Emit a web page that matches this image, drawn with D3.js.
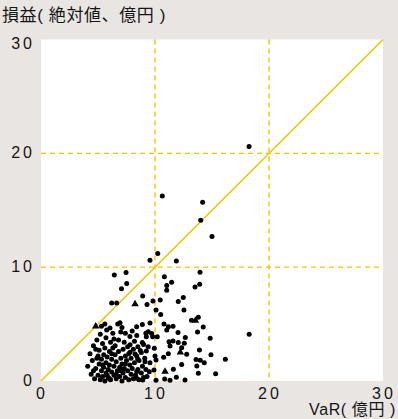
<!DOCTYPE html>
<html>
<head>
<meta charset="utf-8">
<script src="https://cdn.jsdelivr.net/npm/d3@7"></script>
<style>
  html, body { margin: 0; padding: 0; background: #e9e5e2; }
  svg { display: block; }
  text { font-family: "Liberation Sans", Arial, "Noto Sans CJK JP", sans-serif; fill: #151515; }
</style>
</head>
<body>
<svg id="chart" width="398" height="419"></svg>
<script>
// Axis ranges and ticks
const xTicks = [0, 10, 20, 30];
const yTicks = [0, 10, 20, 30];
const gridValues = [10, 20];
const yTitle = "損益( 絶対値、億円 )";
const xTitle = "VaR( 億円 )";

// Desks plotted as dots: [VaR, |P&L|]
const dots = [
  [18.25, 20.6], [10.64, 16.25], [14.18, 15.7], [14.01, 14.12], [15.0, 12.69],
  [10.24, 11.2], [9.56, 10.61], [11.87, 10.55], [13.95, 9.56], [10.82, 9.15],
  [11.46, 8.68], [11.03, 8.39], [13.92, 8.51], [13.51, 8.25], [11.03, 7.98],
  [8.92, 7.46], [12.48, 7.34], [12.04, 6.99], [9.82, 7.02], [10.46, 7.11],
  [9.3, 6.73], [12.54, 6.23], [10.09, 6.23], [10.5, 5.85], [13.8, 5.59],
  [13.2, 5.33], [14.23, 4.74], [8.39, 4.76], [8.89, 4.97], [9.56, 5.09],
  [10.79, 5.0], [11.17, 4.76], [11.58, 4.8], [11.03, 4.47], [13.73, 4.3],
  [12.02, 4.27], [9.41, 4.32], [9.71, 4.18], [18.26, 4.1], [14.84, 3.75],
  [12.66, 3.83], [9.24, 3.89], [9.8, 3.89], [10.2, 3.89], [11.23, 3.45],
  [11.58, 3.51], [12.04, 3.39], [12.57, 3.31], [8.89, 3.39], [7.81, 3.18],
  [11.32, 3.07], [12.34, 2.92], [9.94, 2.87], [9.24, 2.63], [8.71, 2.69],
  [13.9, 2.72], [12.78, 2.34], [11.17, 2.39], [14.91, 2.31], [16.17, 1.91],
  [7.81, 2.52], [8.25, 2.37], [10.0, 2.19], [10.76, 2.08], [13.6, 1.89],
  [13.97, 1.82], [14.32, 1.61], [13.67, 1.32], [12.34, 1.46], [8.48, 1.93],
  [9.12, 1.69], [9.56, 1.61], [10.09, 1.84], [11.61, 1.03], [9.91, 0.96],
  [9.5, 0.82], [13.8, 0.68], [15.32, 0.63], [11.87, 0.32], [12.63, 0.09],
  [11.32, 0.06], [10.85, 0.18], [10.09, 0.06], [8.39, 0.82], [8.92, 0.09],
  [8.39, 0.24], [6.43, 9.32], [7.46, 9.54], [7.52, 8.57], [7.06, 8.11],
  [6.2, 6.86], [6.64, 6.86], [6.93, 5.11], [6.73, 5.0], [6.05, 4.65],
  [5.76, 4.47], [7.1, 4.7], [5.3, 4.8], [5.6, 5.0], [7.4, 4.2],
  [4.1, 1.3], [4.3, 2.4], [4.4, 0.6], [4.5, 1.8], [4.6, 3.1],
  [4.7, 0.2], [4.8, 1.1], [4.9, 2.0], [4.9, 3.6], [5.0, 0.5],
  [5.1, 1.5], [5.1, 2.7], [5.2, 0.1], [5.2, 4.1], [5.3, 0.9],
  [5.3, 1.9], [5.4, 3.3], [5.4, 0.4], [5.5, 2.3], [5.5, 1.2],
  [5.6, 0.0], [5.6, 2.9], [5.7, 0.7], [5.7, 1.6], [5.7, 3.8],
  [5.8, 2.1], [5.9, 0.3], [5.9, 1.0], [6.0, 2.6], [6.0, 1.4],
  [6.1, 3.4], [6.1, 0.1], [6.2, 0.8], [6.2, 1.9], [6.3, 4.2],
  [6.3, 2.9], [6.4, 0.5], [6.4, 1.3], [6.5, 2.3], [6.5, 3.1],
  [6.6, 0.2], [6.6, 1.7], [6.7, 0.9], [6.8, 2.6], [6.8, 3.6],
  [6.9, 1.2], [6.9, 0.4], [7.0, 2.0], [7.0, 4.3], [7.1, 0.0],
  [7.1, 1.5], [7.2, 2.8], [7.2, 0.7], [7.3, 3.4], [7.3, 1.1],
  [7.4, 2.2], [7.4, 0.3], [7.5, 1.8], [7.6, 0.9], [7.6, 3.0],
  [7.7, 2.4], [7.7, 0.1], [7.8, 1.4], [7.8, 3.9], [7.9, 0.6],
  [7.9, 2.0], [8.0, 4.4], [8.0, 1.1], [8.1, 2.8], [8.1, 0.2],
  [8.2, 3.5], [8.2, 1.6], [8.3, 0.5], [8.4, 2.2], [8.4, 4.0],
  [8.5, 1.0], [8.5, 3.0], [8.6, 0.1], [8.6, 1.8], [8.8, 0.7],
  [8.8, 2.5], [8.9, 1.3], [9.0, 3.2], [9.0, 0.3], [9.1, 2.0],
  [9.2, 4.2], [9.2, 1.0], [9.3, 0.4], [9.4, 3.0], [4.6, 0.9],
  [5.0, 2.2], [5.8, 0.5], [6.2, 2.4], [6.6, 0.6], [7.0, 0.9],
  [7.4, 1.5], [5.4, 1.4], [6.0, 0.2], [4.8, 2.8], [6.4, 3.7]
];

// Desks plotted as triangles
const triangles = [
  [8.25, 6.75], [13.55, 5.31], [4.8, 4.8], [12.22, 2.52], [10.88, 0.82]
];

const plot = { left: 41, right: 383, top: 39.5, bottom: 381 };

const svg = d3.select("#chart");

const x = d3.scaleLinear().domain([0, 30]).range([plot.left, plot.right]);
const y = d3.scaleLinear().domain([0, 30]).range([plot.bottom, plot.top]);

const yellow = "#f5c400";

// White plotting panel
svg.append("rect")
  .attr("x", plot.left).attr("y", plot.top)
  .attr("width", plot.right - plot.left)
  .attr("height", plot.bottom - plot.top)
  .attr("fill", "#ffffff");

// Dashed reference grid at 10 and 20
const grid = svg.append("g").attr("stroke", yellow).attr("stroke-width", 1.4)
  .attr("stroke-dasharray", "5,4");
grid.selectAll("line.v").data(gridValues).join("line")
  .attr("class", "v")
  .attr("x1", d => x(d)).attr("x2", d => x(d))
  .attr("y1", plot.top).attr("y2", plot.bottom);
grid.selectAll("line.h").data(gridValues).join("line")
  .attr("class", "h")
  .attr("x1", plot.left).attr("x2", plot.right)
  .attr("y1", d => y(d)).attr("y2", d => y(d));

// 45-degree line where |P&L| equals VaR
svg.append("line")
  .attr("x1", x(0)).attr("y1", y(0))
  .attr("x2", x(30)).attr("y2", y(30))
  .attr("stroke", yellow).attr("stroke-width", 1.6);

// Points
svg.append("g").selectAll("circle").data(dots).join("circle")
  .attr("cx", d => x(d[0])).attr("cy", d => y(d[1]))
  .attr("r", 2.5).attr("fill", "#000");

const tri = d3.symbol().type(d3.symbolTriangle).size(24);
svg.append("g").selectAll("path").data(triangles).join("path")
  .attr("transform", d => `translate(${x(d[0])},${y(d[1])})`)
  .attr("d", tri).attr("fill", "#000");

// Tick labels
svg.append("g").selectAll("text").data(xTicks).join("text")
  .attr("x", d => x(d) + 1).attr("y", 399)
  .attr("text-anchor", "middle")
  .attr("font-size", 16).attr("letter-spacing", 3)
  .text(d => d);

svg.append("g").selectAll("text").data(yTicks).join("text")
  .attr("x", 35).attr("y", d => y(d) + (d === 30 ? 9 : 5))
  .attr("text-anchor", "end")
  .attr("font-size", 16).attr("letter-spacing", 3)
  .text(d => d);

// Axis titles
svg.append("text")
  .attr("x", 2).attr("y", 21)
  .attr("font-size", 17).attr("letter-spacing", 0.6)
  .text(yTitle);

svg.append("text")
  .attr("x", 396).attr("y", 415)
  .attr("text-anchor", "end")
  .attr("font-size", 16).attr("letter-spacing", 0.6)
  .text(xTitle);
</script>
</body>
</html>
